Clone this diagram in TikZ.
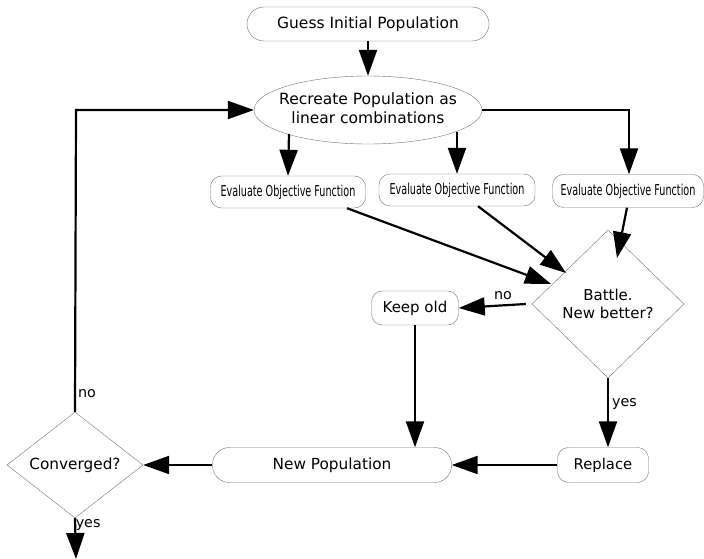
\documentclass[tikz,border=0pt]{standalone}
\usepackage{fontspec}
\setmainfont{DejaVu Sans}
\newfontfamily\narrowf[FakeStretch=0.714]{DejaVu Sans Condensed}
\usetikzlibrary{shapes.geometric,arrows.meta}
\begin{document}
\begin{tikzpicture}[x=1pt,y=-1pt,
  box/.style={draw=black!55,rounded corners=11pt,minimum height=34pt,inner sep=2pt},
  pill/.style={draw=black!55,rounded corners=17pt,minimum height=34pt,inner sep=2pt},
  dia/.style={draw=black!55,diamond,inner sep=0pt,align=center},
  flow/.style={line width=2.2pt,-{Triangle[length=26pt,width=18pt]}},
  lbl/.style={inner sep=1pt,font=\fontsize{14.3}{16}\selectfont},
  evalf/.style={font=\narrowf\fontsize{15}{17}\selectfont}]
\useasboundingbox (0,0) rectangle (704,559);
\node[pill,minimum width=242pt,font=\fontsize{15.5}{18}\selectfont] (guess) at (368,24) {Guess Initial Population};
\node[draw=black!55,ellipse,minimum width=228pt,minimum height=68pt,inner sep=0pt,font=\fontsize{15.5}{19.5}\selectfont] (rec) at (368,110) {\makebox[0pt]{\begin{tabular}{@{}c@{}}Recreate Population as\\linear combinations\end{tabular}}};
\node[box,minimum width=155pt,minimum height=32pt,evalf] (e1) at (288,192) {Evaluate Objective Function};
\node[box,minimum width=156pt,minimum height=32pt,evalf] (e2) at (457,190) {Evaluate Objective Function};
\node[box,minimum width=151pt,minimum height=33pt,evalf] (e3) at (628,191) {Evaluate Objective Function};
\node[dia,minimum width=152pt,minimum height=148pt,font=\fontsize{15}{18.5}\selectfont] (bat) at (608,304) {Battle.\\New better?};
\node[box,minimum width=87pt,font=\fontsize{15}{17}\selectfont] (keep) at (415,308) {Keep old};
\node[box,minimum width=91pt,minimum height=35pt,font=\fontsize{14.8}{17}\selectfont] (rep) at (603,465) {Replace};
\node[pill,minimum width=239pt,minimum height=35pt,font=\fontsize{15.3}{17}\selectfont] (newp) at (332,465) {New Population};
\node[dia,minimum width=136pt,minimum height=106pt,font=\fontsize{15.3}{17}\selectfont] (conv) at (75,465) {\makebox[0pt]{Converged?}};
\coordinate (cturn) at (76,110);
\coordinate (rturn) at (629,110);
\coordinate (out) at (76,559);
\coordinate (t1) at (551,284);
\coordinate (t2) at (566,273);
\coordinate (t3) at (617,258);
\draw[flow] (guess) -- (rec);
\draw[flow] (rec.center) ++(-79,24) -- (e1.north);
\draw[flow] (rec.center) ++(89,22) -- (e2.north);
\draw[flow] (rec.east) -- (rturn) -- (e3.north -| rturn);
\draw[flow] (e1.south) ++(59,0) -- (t1);
\draw[flow] (e2.south) ++(21,0) -- (t2);
\draw[flow] (e3.south) ++(-1,0) -- (t3);
\draw[flow] (bat.west) ++(-6,0) -- (keep.east) node[lbl,pos=0.34,above=4pt] {no};
\draw[flow] (keep.south) -- (newp.north -| keep);
\draw[flow] (bat.south) -- (rep.north -| bat.south) node[lbl,pos=0.38,right=2pt] {yes};
\draw[flow] (rep) -- (newp);
\draw[flow] (newp) -- (conv);
\draw[flow] (conv.north) -- (cturn) node[lbl,pos=0.06,right=1pt] {no} -- (rec.west);
\draw[flow] (conv.south) -- (out) node[lbl,pos=0.17,right=-1.5pt] {yes};
\end{tikzpicture}
\end{document}
